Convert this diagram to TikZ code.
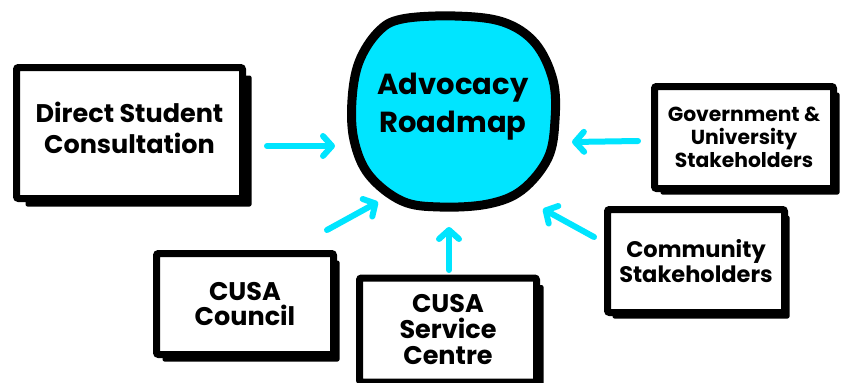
\documentclass[tikz,border=0pt]{standalone}
\usepackage{fontspec}
\setmainfont{Poppins}
\usetikzlibrary{arrows.meta,shadows}
\definecolor{cy}{RGB}{0,229,255}
\tikzset{
  box/.style={draw=black, fill=white, line width=7pt, rounded corners=2pt, align=center, inner sep=0pt},
  shad/.style 2 args={drop shadow={shadow xshift=#1, shadow yshift=#2, fill=black, opacity=1}},
  arr/.style={draw=cy, line width=6pt, line cap=round, -{Straight Barb[length=9pt,width=20pt,round]}},
  txt/.style={align=center, inner sep=0pt}
}
\begin{document}
\begin{tikzpicture}[x=1pt,y=-1pt]
\useasboundingbox (0,0) rectangle (841,383);
% boxes
\node[box, minimum width=226pt, minimum height=131pt, shad={9pt}{-8pt}] (dsc) at (129.5,133) {};
\node[txt, font=\bfseries\fontsize{25.5}{31}\selectfont] (dsct) at (129.5,128) {Direct Student\\Consultation};
\node[box, minimum width=179pt, minimum height=102pt, shad={6pt}{-6pt}, font=\bfseries\fontsize{20.3}{23}\selectfont] (gov) at (744,137.5) {Government \&\\University\\Stakeholders};
\node[box, minimum width=177pt, minimum height=103pt, shad={5pt}{-6pt}, font=\bfseries\fontsize{22.5}{25}\selectfont] (com) at (696,261) {Community\\Stakeholders};
\node[box, minimum width=177pt, minimum height=101pt, shad={6pt}{-7pt}, font=\bfseries\fontsize{25.5}{25}\selectfont] (cou) at (245,304) {CUSA\\Council};
\node[box, minimum width=177pt, minimum height=104pt, shad={7pt}{-7pt}, font=\bfseries\fontsize{25.5}{26}\selectfont] (svc) at (448,330) {CUSA\\Service\\Centre};
% central blob
\draw[line width=9pt, fill=cy, line join=round] plot[smooth cycle, tension=0.6] coordinates {
 (402,19) (455,16) (503,22) (535,43) (553,80) (555,120) (548,158) (522,190)
 (488,204) (440,207) (402,201) (369,175) (354,140) (352,100) (359,62) (378,32)};
\node[txt, font=\bfseries\fontsize{29}{38}\selectfont] (road) at (453,107) {Advocacy\\Roadmap};
% arrow end points
\coordinate (a1s) at (267,146); \coordinate (a1e) at (335,146);
\coordinate (a2s) at (638,141); \coordinate (a2e) at (572,142);
\coordinate (a3s) at (594,237); \coordinate (a3e) at (543,209);
\coordinate (a4s) at (327,230); \coordinate (a4e) at (378,202);
\coordinate (a5s) at (449,270); \coordinate (a5e) at (449,227);
\draw[arr] (a1s) -- (a1e);
\draw[arr] (a2s) -- (a2e);
\draw[arr] (a3s) -- (a3e);
\draw[arr] (a4s) -- (a4e);
\draw[arr] (a5s) -- (a5e);
\end{tikzpicture}
\end{document}
